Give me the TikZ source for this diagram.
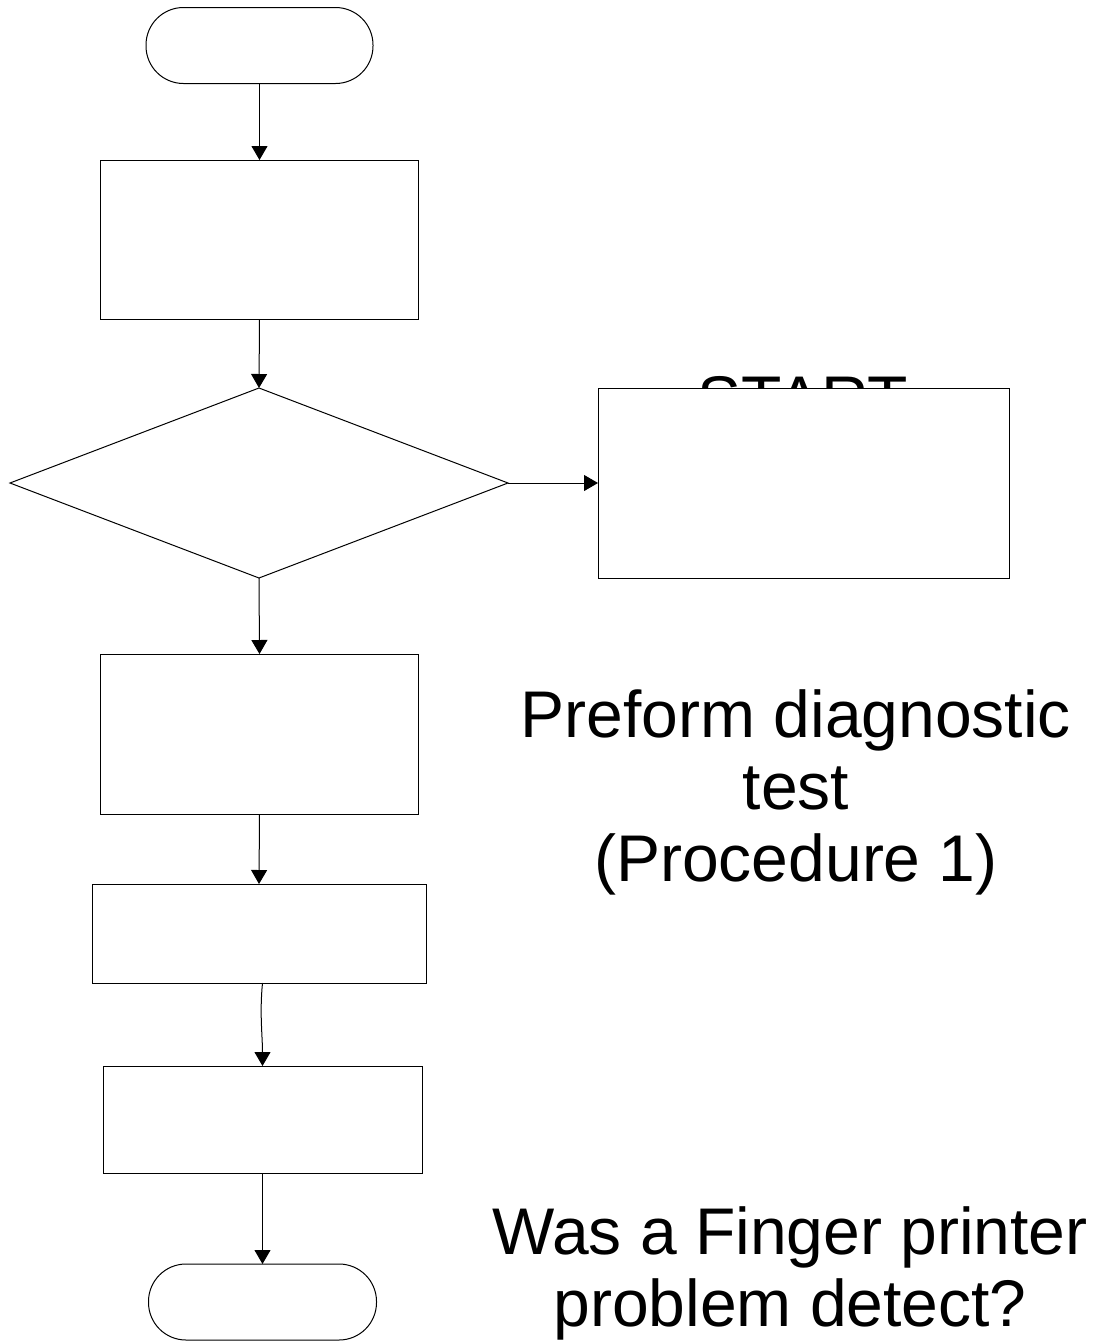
\documentclass[tikz,border=0pt]{standalone}
\usepackage{fontspec}
\setmainfont{Liberation Sans}
\usetikzlibrary{shapes.geometric,arrows.meta}
\begin{document}
\begin{tikzpicture}[x=1pt,y=-1pt,
  shp/.style={draw=black,fill=white,line width=1pt,inner sep=0pt,outer sep=0pt},
  boxs/.style={shp,rectangle},
  term/.style={shp,rectangle,rounded corners=37.5pt,minimum width=227pt,minimum height=76pt},
  dec/.style={shp,diamond,aspect=2.62},
  arr/.style={line width=1pt,-{Triangle[length=14pt,width=16pt]}},
  big/.style={font=\fontsize{66}{72}\selectfont,align=center,inner sep=0pt}]
\useasboundingbox (0,0) rectangle (1105,1344);
\fill[white] (0,0) rectangle (1105,1344);
% texts
\node[big,anchor=base] (tstart) at (803,422) {START};
% shapes
\node[term] (start) at (259.5,45.5) {};
\node[boxs,minimum width=318pt,minimum height=159pt] (b1) at (259.5,239.5) {};
\node[dec,minimum width=498pt,minimum height=190pt] (d) at (259,483) {};
\node[boxs,minimum width=411pt,minimum height=190pt] (rb) at (803.5,483) {};
\node[boxs,minimum width=318pt,minimum height=160pt] (b2) at (259.5,734) {};
\node[boxs,minimum width=334pt,minimum height=99pt] (b3) at (259,933.5) {};
\node[boxs,minimum width=319pt,minimum height=107pt] (b4) at (262.5,1119.5) {};
\node[term,minimum width=228pt] (end) at (262.5,1302) {};
% connectors
\draw[arr] (start.south) -- (b1.north);
\draw[arr] (b1.south) -- (d.north);
\draw[arr] (d.east) -- (rb.west);
\draw[arr] (d.south) -- (b2.north);
\draw[arr] (b2.south) -- (b3.north);
\draw[arr] (b3.south -| b4.north) .. controls +(-3,30) and +(0,-30) .. (b4.north);
\draw[arr] (b4.south) -- (end.north);
% free texts
\node[big,anchor=base] (tdiag) at (796,881) {Preform diagnostic\\test\\(Procedure 1)};
\node[big,anchor=base] (tq) at (790,1326) {Was a Finger printer\\problem detect?};
\end{tikzpicture}
\end{document}
